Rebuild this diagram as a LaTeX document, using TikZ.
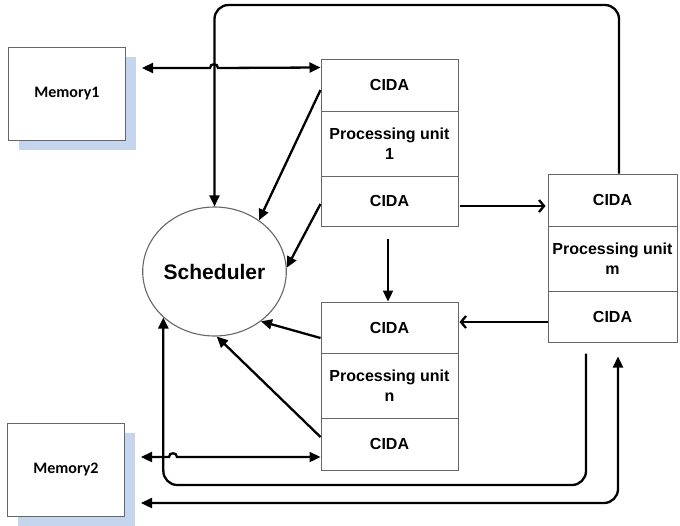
\documentclass[tikz,border=0pt]{standalone}
\usepackage{fontspec}
\setmainfont{Liberation Sans}
\newfontfamily\memfont{Carlito}
\usetikzlibrary{arrows.meta,shapes.geometric,shadows,calc}
\definecolor{shadowblue}{HTML}{C6D5EE}
\definecolor{boxgray}{HTML}{666666}

\tikzset{
  ftri/.tip={Triangle[length=11pt,width=10pt]},
  obarb/.tip={Straight Barb[length=5pt,width=12pt]},
}

\begin{document}
\begin{tikzpicture}[x=1pt,y=-1pt,
  cell/.style={draw=boxgray, line width=1pt, fill=white, inner sep=0pt,
    align=center, font=\bfseries\fontsize{16}{20}\selectfont},
  pucell/.style={cell, minimum width=137pt},
  pumcell/.style={cell, minimum width=129pt},
  mem/.style={draw=boxgray, line width=1pt, fill=white, inner sep=0pt,
    minimum width=117pt, minimum height=93pt,
    font=\memfont\bfseries\fontsize{16}{19}\selectfont,
    drop shadow={fill=shadowblue, opacity=1, shadow xshift=10pt, shadow yshift=-10pt}},
  sched/.style={ellipse, draw=boxgray, line width=1.1pt, fill=white, inner sep=0pt,
    minimum width=117pt, minimum height=129pt,
    font=\bfseries\fontsize{21}{25}\selectfont},
  link/.style={line width=2.3pt, -ftri},
  link2/.style={line width=2.3pt, ftri-ftri},
  flow/.style={line width=2.3pt, -obarb},
  loop/.style={line width=2.3pt, rounded corners=14pt},
]
\useasboundingbox (0,0) rectangle (680,525);

% memories
\node[mem] (mem1) at (67,93.5) {Memory1};
\node[mem] (mem2) at (66,469.5) {Memory2};

% processing unit 1
\node[pucell, minimum height=52pt] (cida1a) at (389.5,85) {CIDA};
\node[pucell, minimum height=65pt] (pu1) at (389.5,143.5) {Processing unit\\1};
\node[pucell, minimum height=50pt] (cida1b) at (389.5,201) {CIDA};

% processing unit n
\node[pucell, minimum height=51pt] (cidan1) at (389.5,327.5) {CIDA};
\node[pucell, minimum height=65pt] (pun) at (389.5,385.5) {Processing unit\\n};
\node[pucell, minimum height=52pt] (cidan2) at (389.5,444) {CIDA};

% processing unit m
\node[pumcell, minimum height=52pt] (cidam1) at (612.5,200) {CIDA};
\node[pumcell, minimum height=65pt] (pum) at (612.5,258.5) {Processing unit\\m};
\node[pumcell, minimum height=51pt] (cidam2) at (612.5,316.5) {CIDA};

% scheduler
\node[sched] (sched) at (214.5,271.5) {Scheduler};

% feedback from unit m to the scheduler over the top
\draw[loop, -ftri] ($(cidam1.north)+(6.5,0)$) |- (sched.north |- 0,5) -- (sched.north);

% memory 1 <-> unit 1, hopping over the feedback line
\draw[link2] ($(mem1.east)+(16,-25.5)$) -- (210,68)
  .. controls (210,63) and (218,63) .. (218,68)
  -- ($(cida1a.north west)+(0,9)$);

% lower feedback from unit m to the scheduler
\draw[loop, -ftri] ($(cidam2.south)+(-26.5,11)$) |- (sched.south west |- 0,485)
  -- (sched.south west);

% memory 2 <-> unit m
\draw[loop, ftri-ftri] ($(mem2.east)+(16,33.5)$) -| ($(cidam2.south)+(5.5,14)$);

% memory 2 <-> unit n, hopping over the lower feedback line
\draw[link2] ($(mem2.east)+(16,-12.5)$) -- (169,457)
  .. controls (169,452) and (177,452) .. (177,457)
  -- ($(cidan2.west)+(0,13)$);

% CIDA ports to the scheduler
\draw[link] ($(cida1a.west)+(0,5)$) -- (sched.49);
\draw[link] ($(cida1b.west)+(0,3)$) -- (sched.3);
\draw[link] ($(cidan1.west)+(0,10.5)$) -- (sched.313);
\draw[link] ($(cidan2.west)+(0,-7)$) -- (sched.272);

% data flow between units
\draw[flow] ($(cida1b.east)+(1,5)$) -- ($(cidam1.west)+(-2,6)$);
\draw[link] ($(cida1b.south)+(-1.5,12)$) -- ($(cidan1.north)+(-1.5,0)$);
\draw[flow] ($(cidam2.west)+(0,5.5)$) -- ($(cidan1.east)+(1,-5.5)$);
\end{tikzpicture}
\end{document}
